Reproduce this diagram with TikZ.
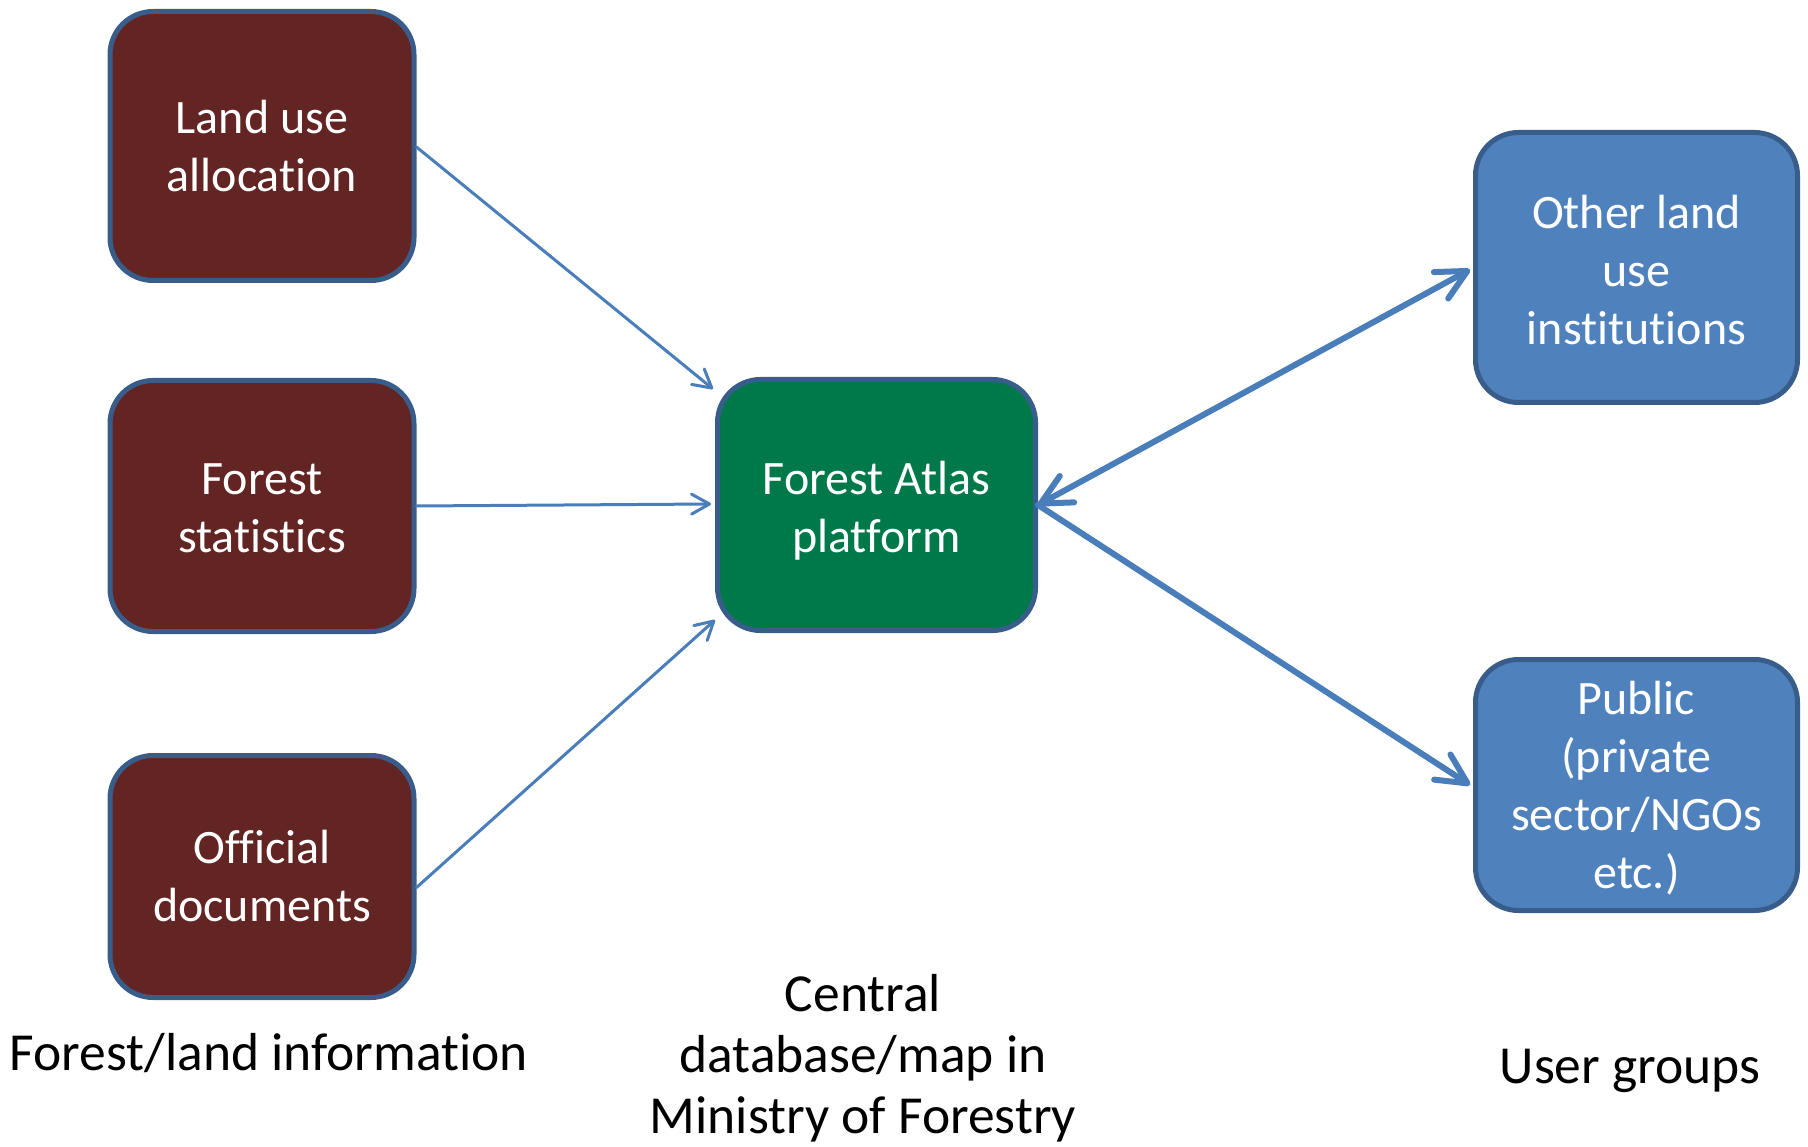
\documentclass[tikz,border=0pt]{standalone}
\usepackage{fontspec}
\setmainfont{Carlito}[Ligatures=CommonOff]
\usetikzlibrary{arrows.meta}
\definecolor{bord}{HTML}{385D8A}
\definecolor{maroon}{HTML}{632523}
\definecolor{atlasgreen}{HTML}{00794A}
\definecolor{userblue}{HTML}{4F81BD}
\definecolor{arrowc}{HTML}{4A7EBB}
\newcommand{\lowr}[2]{\raisebox{-#1}[\height][\depth]{#2}}
\begin{document}
\begin{tikzpicture}[x=1pt,y=-1pt,
  box/.style={draw=bord, line width=5pt, rounded corners=43pt, inner sep=0pt,
    text=white, align=center, font=\fontsize{48}{58}\selectfont},
  thinarrow/.style={draw=arrowc, line width=3pt, line cap=round,
    -{Straight Barb[length=18pt,width=20pt,round]}},
  thickarrow/.style={draw=arrowc, line width=6pt, line cap=round},
  bigtip/.tip={Straight Barb[length=30pt,width=30pt,round]},
  lbl/.style={font=\fontsize{53.5}{61}\selectfont, align=center, inner sep=0pt}]
\useasboundingbox (0,0) rectangle (1808,1147);
% left boxes
\node[box, fill=maroon, minimum width=304pt, minimum height=269pt] (land) at (262,146) {Land use\\allocation};
\node[box, fill=maroon, minimum width=304pt, minimum height=251pt] (stats) at (262,506) {\lowr{2pt}{Forest}\\\lowr{2pt}{statistics}};
\node[box, fill=maroon, minimum width=304pt, minimum height=242pt] (docs) at (262,876.5) {Official\\documents};
% centre
\node[box, fill=atlasgreen, minimum width=318pt, minimum height=251pt] (atlas) at (876.5,505) {\lowr{6pt}{Forest Atlas}\\\lowr{6pt}{platform}};
% right boxes
\node[box, fill=userblue, minimum width=322pt, minimum height=270pt] (other) at (1636.5,267.5) {\lowr{3pt}{Other land}\\\lowr{3pt}{use}\\\lowr{3pt}{institutions}};
\node[box, fill=userblue, minimum width=322pt, minimum height=251pt] (public) at (1636.5,785) {\lowr{3pt}{Public}\\\lowr{3pt}{(private}\\\lowr{3pt}{sector/NGOs}\\\lowr{3pt}{etc.)}};
% thin arrows
\draw[thinarrow] ([yshift=-1pt]land.east) -- ([xshift=-2pt,yshift=-12pt]atlas.north west);
\draw[thinarrow] (stats.east) -- ([xshift=-4pt,yshift=1pt]atlas.west);
\draw[thinarrow] ([yshift=-11pt]docs.east) -- ([yshift=13pt]atlas.south west);
% thick arrows
\draw[thickarrow, bigtip-bigtip] (atlas.east) -- ([xshift=-3pt,yshift=-2pt]other.west);
\draw[thickarrow, -bigtip] (atlas.east) -- ([xshift=-3pt]public.west);
% labels
\node[lbl, anchor=base] (info) at (269,1070) {Forest/land information};
\node[lbl, anchor=base] (central) at (863,1133) {Central\\database/map in\\Ministry of Forestry};
\node[lbl, anchor=base] (users) at (1630,1083) {User groups};
\end{tikzpicture}
\end{document}
